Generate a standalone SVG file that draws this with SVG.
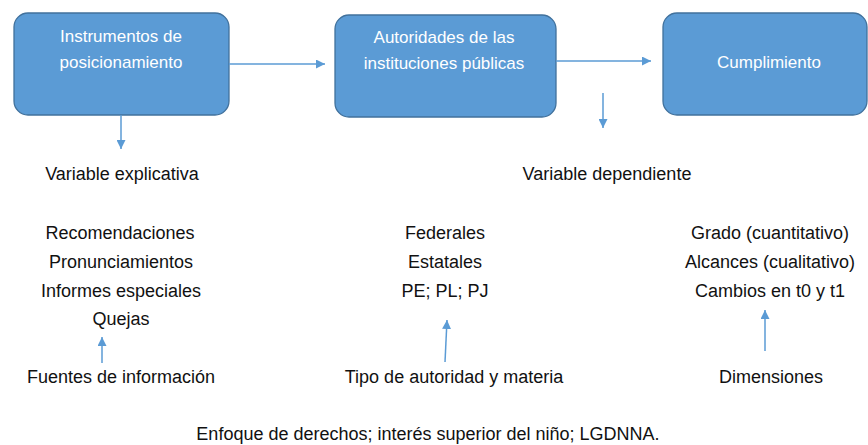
<svg xmlns="http://www.w3.org/2000/svg" width="868" height="445" viewBox="0 0 868 445">
<style>
.box{fill:#5B9BD5;stroke:#41719C;stroke-width:1.3}
.bt{font-family:"Liberation Sans",Arial,sans-serif;font-size:17px;fill:#ffffff;text-anchor:middle}
.t{font-family:"Liberation Sans",Arial,sans-serif;font-size:18px;fill:#111111;text-anchor:middle}
.c{stroke:#5B9BD5;stroke-width:1.5;fill:none;marker-end:url(#ah)}
</style>
<defs>
<marker id="ah" viewBox="0 0 10 10" refX="10" refY="5" markerWidth="9" markerHeight="9" markerUnits="userSpaceOnUse" orient="auto">
<path d="M0,0 L10,5 L0,10 z" fill="#5B9BD5"/>
</marker>
</defs>
<rect width="868" height="445" fill="#ffffff"/>
<g id="node-instrumentos">
<rect class="box" x="14" y="13" width="215" height="102" rx="14"/>
<text class="bt" x="121" y="42">Instrumentos de</text>
<text class="bt" x="121" y="68">posicionamiento</text>
</g>
<g id="node-autoridades">
<rect class="box" x="335" y="15" width="221" height="102" rx="14"/>
<text class="bt" x="444" y="43">Autoridades de las</text>
<text class="bt" x="444" y="69">instituciones públicas</text>
</g>
<g id="node-cumplimiento">
<rect class="box" x="663" y="13" width="204" height="102" rx="14"/>
<text class="bt" x="769" y="68">Cumplimiento</text>
</g>
<g id="connectors">
<line class="c" x1="229" y1="64" x2="325" y2="64"/>
<line class="c" x1="556" y1="61" x2="651" y2="61"/>
<line class="c" x1="121" y1="115" x2="121" y2="149"/>
<line class="c" x1="603" y1="93" x2="603" y2="128"/>
<line class="c" x1="102" y1="363" x2="102" y2="337"/>
<line class="c" x1="445" y1="362" x2="447" y2="320"/>
<line class="c" x1="765" y1="351" x2="765" y2="310"/>
</g>
<g id="labels">
<text class="t" x="122" y="180">Variable explicativa</text>
<text class="t" x="607" y="180">Variable dependiente</text>
<text class="t" x="120" y="239">Recomendaciones</text>
<text class="t" x="121" y="268">Pronunciamientos</text>
<text class="t" x="121" y="297">Informes especiales</text>
<text class="t" x="121" y="325">Quejas</text>
<text class="t" x="121" y="383">Fuentes de información</text>
<text class="t" x="445" y="239">Federales</text>
<text class="t" x="445" y="268">Estatales</text>
<text class="t" x="445" y="297">PE; PL; PJ</text>
<text class="t" x="454" y="383">Tipo de autoridad y materia</text>
<text class="t" x="770" y="239">Grado (cuantitativo)</text>
<text class="t" x="770" y="268">Alcances (cualitativo)</text>
<text class="t" x="770" y="297">Cambios en t0 y t1</text>
<text class="t" x="771" y="383">Dimensiones</text>
<text class="t" x="428" y="440">Enfoque de derechos; interés superior del niño; LGDNNA.</text>
</g>
</svg>
